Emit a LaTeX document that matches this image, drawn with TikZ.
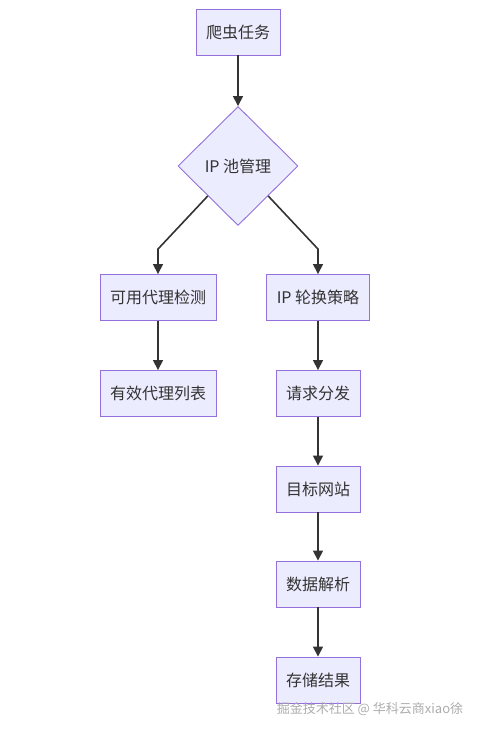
\documentclass[tikz,border=0pt]{standalone}
\usepackage{fontspec}
\setmainfont{Noto Sans CJK SC}
\usepackage{tikz}
\usetikzlibrary{arrows.meta, positioning, calc, shapes.geometric}
\definecolor{boxfill}{HTML}{ECECFF}
\definecolor{boxline}{HTML}{9370DB}
\definecolor{flowline}{HTML}{333333}
\tikzset{
	stage/.style={draw=boxline, fill=boxfill, line width=0.9pt, minimum height=46pt, inner xsep=10pt, text=flowline, font=\fontsize{16}{19}\selectfont},
	choice/.style={diamond, draw=boxline, fill=boxfill, line width=0.9pt, minimum width=120pt, minimum height=119pt, inner sep=0pt, text=flowline, font=\fontsize{16}{19}\selectfont},
	flow/.style={draw=flowline, line width=1.6pt, -{Triangle[length=10pt, width=10pt]}}
}

\begin{document}
\begin{tikzpicture}[x=1pt, y=-1pt]
	\useasboundingbox (0,0) rectangle (480,731);
	\node[stage] at (238, 32) (task) {爬虫任务};
	\node[choice] at (238, 166) (pool) {IP 池管理};
	\node[stage] at (158, 297.5) (check) {可用代理检测};
	\node[stage] at (318, 297.5) (rotate) {IP 轮换策略};
	\node[stage] at (158, 393.5) (valid) {有效代理列表};
	\node[stage] at (318, 393.5) (dispatch) {请求分发};
	\node[stage] at (318, 489) (site) {目标网站};
	\node[stage] at (318, 584) (parse) {数据解析};
	\node[stage] at (318, 680) (store) {存储结果};
	\node[text=gray!65, font=\fontsize{13}{15}\selectfont] at (370, 709) (mark) {掘金技术社区 @ 华科云商xiao徐};
	
	\draw[flow] (task) -- (pool);
	\draw[flow] (pool.south west) -- ([yshift=25pt]check.north) -- (check.north);
	\draw[flow] (pool.south east) -- ([yshift=25pt]rotate.north) -- (rotate.north);
	\draw[flow] (check) -- (valid);
	\draw[flow] (rotate) -- (dispatch);
	\draw[flow] (dispatch) -- (site);
	\draw[flow] (site) -- (parse);
	\draw[flow] (parse) -- (store);
\end{tikzpicture}
\end{document}
